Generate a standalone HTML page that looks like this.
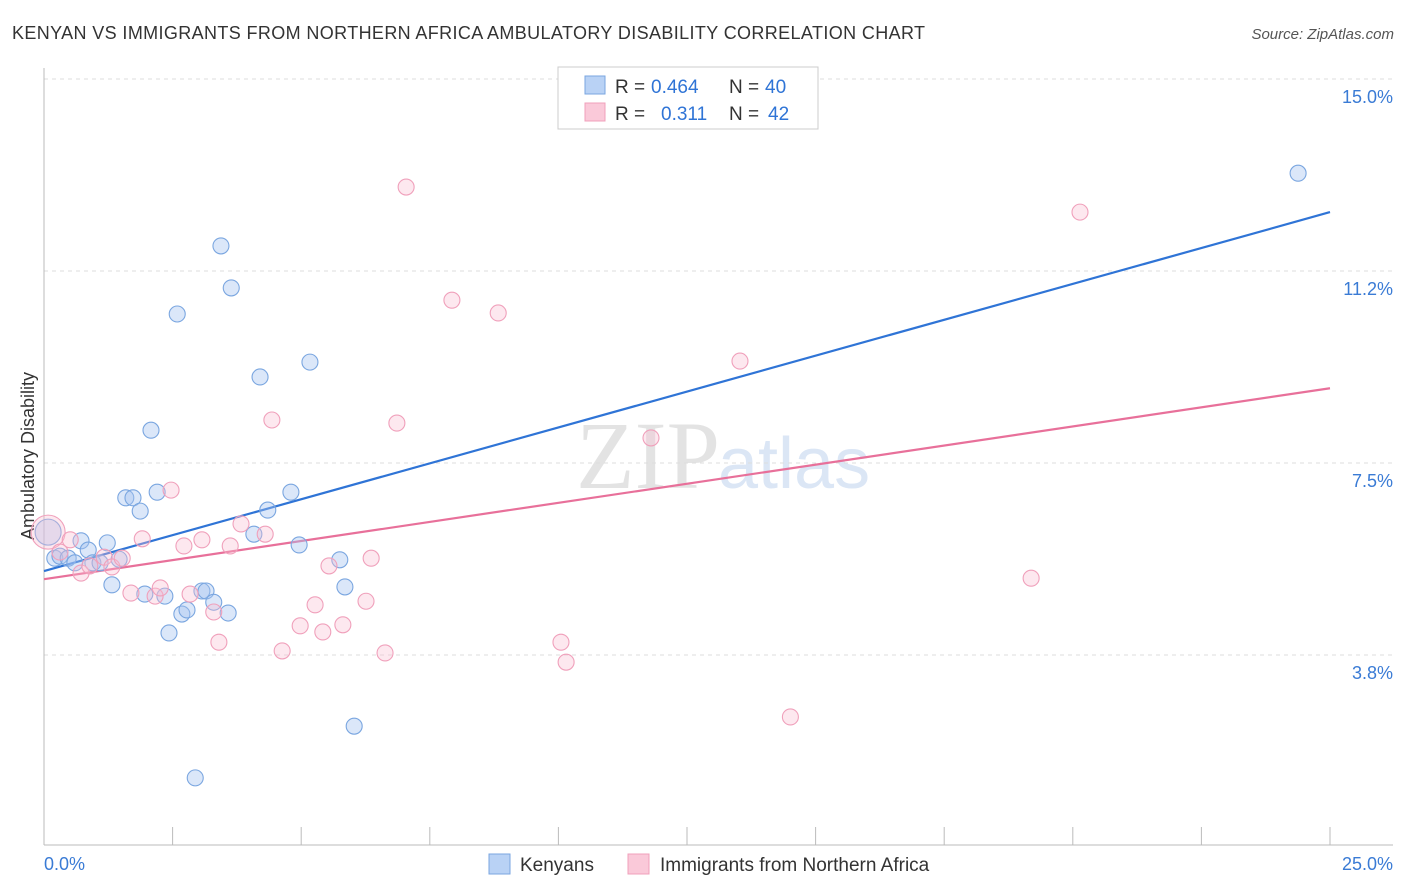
<!DOCTYPE html>
<html><head><meta charset="utf-8"><style>
body{margin:0;background:#fff;font-family:"Liberation Sans",sans-serif;}
svg{display:block}
</style></head><body>
<svg id="chart" width="1406" height="892">
<text x="12" y="39" font-size="18" fill="#333" textLength="913">KENYAN VS IMMIGRANTS FROM NORTHERN AFRICA AMBULATORY DISABILITY CORRELATION CHART</text>
<text x="1394" y="39" font-size="15" fill="#555" font-style="italic" text-anchor="end">Source: ZipAtlas.com</text>
<text x="720" y="488" font-size="96" fill="#d8d8d8" text-anchor="end" font-family="Liberation Serif" opacity="0.7">ZIP</text>
<text x="718" y="488" font-size="72" fill="#c4d6f0" opacity="0.6">atlas</text>
<text transform="translate(34,456) rotate(-90)" font-size="18" fill="#333" text-anchor="middle">Ambulatory Disability</text>
<g id="grid"></g><g id="axes"></g><g id="lines"></g><g id="pts"></g>
<g>
<rect x="558" y="67" width="260" height="62" fill="#fff" stroke="#ccc"/>
<rect x="585" y="76" width="20" height="18" fill="#b9d2f5" stroke="#7aa6e0"/>
<rect x="585" y="103" width="20" height="18" fill="#fac9d9" stroke="#f0a0bb"/>
<text font-size="19" fill="#333"><tspan x="615" y="93">R =</tspan><tspan x="651" y="93" fill="#2f74d6">0.464</tspan><tspan x="729" y="93">N =</tspan><tspan x="765" y="93" fill="#2f74d6">40</tspan></text>
<text font-size="19" fill="#333"><tspan x="615" y="120">R =</tspan><tspan x="661" y="120" fill="#2f74d6">0.311</tspan><tspan x="729" y="120">N =</tspan><tspan x="768" y="120" fill="#2f74d6">42</tspan></text>
</g>
<g>
<rect x="489" y="854" width="21" height="20" fill="#b9d2f5" stroke="#7aa6e0"/>
<text x="520" y="871" font-size="19" fill="#333">Kenyans</text>
<rect x="628" y="854" width="21" height="20" fill="#fac9d9" stroke="#f0a0bb"/>
<text x="660" y="871" font-size="19" fill="#333">Immigrants from Northern Africa</text>
</g>
</svg>
<script>
const yTicks=[3.75,7.5,11.25,15];
const yTickLabels=["3.8%","7.5%","11.2%","15.0%"];
const xTicks=[0,2.5,5,7.5,10,12.5,15,17.5,20,22.5,25];
const xEndLabels=["0.0%","25.0%"];
const blueX=[0.21,0.31,0.47,0.60,0.72,0.86,0.95,1.09,1.23,1.32,1.46,1.59,1.73,1.87,1.96,2.08,2.20,2.35,2.43,2.59,2.68,2.78,2.94,3.07,3.15,3.30,3.44,3.58,3.64,4.08,4.20,4.35,4.80,4.96,5.17,5.75,5.85,6.03,24.38,0.08];
const blueY=[5.64,5.68,5.64,5.55,5.98,5.80,5.55,5.55,5.94,5.12,5.62,6.82,6.82,6.56,4.94,8.14,6.93,4.90,4.18,10.41,4.55,4.63,1.35,5.00,5.00,4.78,11.74,4.57,10.92,6.11,9.18,6.58,6.93,5.90,9.47,5.61,5.08,2.36,13.16,6.15];
const pinkX=[0.08,0.31,0.51,0.72,0.89,1.17,1.32,1.52,1.69,1.91,2.16,2.26,2.47,2.72,2.84,3.07,3.30,3.40,3.62,3.83,4.30,4.43,4.63,4.98,5.27,5.42,5.54,5.81,6.26,6.36,6.63,6.86,7.04,7.93,8.83,10.05,10.15,11.80,13.53,14.51,19.19,20.14];
const pinkY=[6.15,5.76,6.00,5.35,5.49,5.66,5.47,5.64,4.96,6.02,4.90,5.06,6.97,5.88,4.94,6.00,4.59,4.00,5.88,6.31,6.11,8.34,3.83,4.32,4.73,4.20,5.49,4.34,4.80,5.64,3.79,8.28,12.89,10.68,10.43,4.00,3.61,7.99,9.49,2.54,5.25,12.40];
const blueTrend=[5.39,12.40];
const pinkTrend=[5.23,8.96];
const NS="http://www.w3.org/2000/svg";
const X=v=>44+v/25*1286, Y=v=>847-v/3.75*192;
function mk(tag,attrs,parent){const e=document.createElementNS(NS,tag);for(const k in attrs)e.setAttribute(k,attrs[k]);document.getElementById(parent).appendChild(e);return e;}
yTicks.forEach((t,i)=>{
 const g=mk('line',{x1:44,x2:1393,y1:Y(t),y2:Y(t),stroke:'#ddd','stroke-dasharray':'4,4'},'grid');
 
 
 const l=mk('text',{x:1393,y:Y(t)+24,'font-size':18,fill:'#3a7bd5','text-anchor':'end'},'grid');
 l.textContent=yTickLabels[i];
 
 
});
const ax=mk('line',{x1:44,x2:1393,y1:845,y2:845,stroke:'#bbb'},'axes');


const ay=mk('line',{x1:44,x2:44,y1:68,y2:845,stroke:'#bbb'},'axes');


xTicks.forEach(t=>{const e=mk('line',{x1:X(t),x2:X(t),y1:827,y2:845,stroke:'#bbb'},'axes');
 
 });
const l0=mk('text',{x:44,y:870,'font-size':18,fill:'#3a7bd5'},'axes');l0.textContent=xEndLabels[0];


const l1=mk('text',{x:1393,y:870,'font-size':18,fill:'#3a7bd5','text-anchor':'end'},'axes');l1.textContent=xEndLabels[1];


function pts(xs,ys,fill,stroke,name,bigIdx,bigR){xs.forEach((x,i)=>{
 const c=mk('circle',{cx:X(x),cy:Y(ys[i]),r:i===bigIdx?bigR:8,fill:fill,stroke:stroke,'stroke-width':1.1},'pts');
 
 });}
pts(blueX,blueY,'rgba(164,196,240,0.4)','#7aa6e0','kenyan-point',blueX.length-1,13);
pts(pinkX,pinkY,'rgba(248,190,210,0.35)','#f0a0bb','immigrant-point',0,17);
const bl=mk('line',{x1:X(0),y1:Y(blueTrend[0]),x2:X(25),y2:Y(blueTrend[1]),stroke:'#2f74d6','stroke-width':2.2},'lines');


const pl=mk('line',{x1:X(0),y1:Y(pinkTrend[0]),x2:X(25),y2:Y(pinkTrend[1]),stroke:'#e8709a','stroke-width':2.2},'lines');


</script>
</body></html>
